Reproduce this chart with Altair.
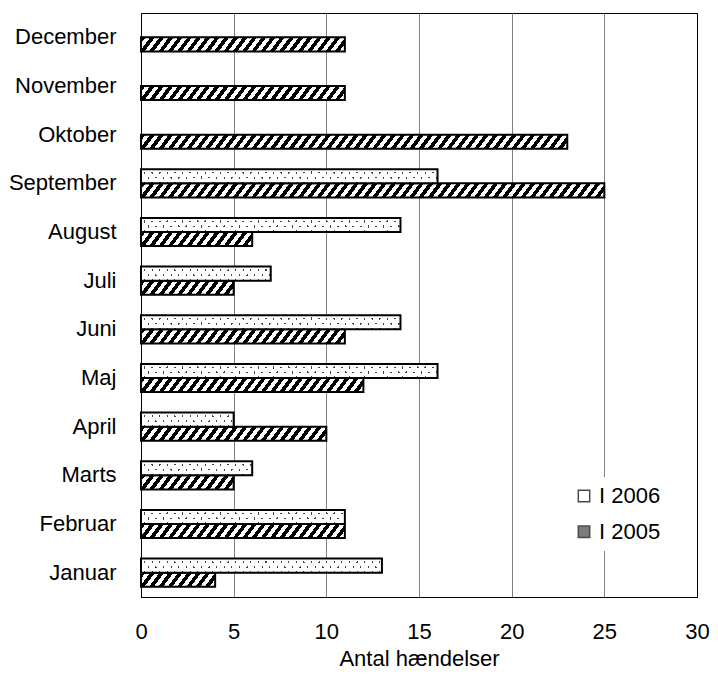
import math
import altair as alt
import pandas as pd

# ---------------- data ----------------
months = ["Januar", "Februar", "Marts", "April", "Maj", "Juni", "Juli",
          "August", "September", "Oktober", "November", "December"]
values_2006 = [13, 11, 6, 5, 16, 14, 7, 14, 16, None, None, None]
values_2005 = [4, 11, 5, 10, 12, 11, 5, 6, 25, 23, 11, 11]
series_names = ["I 2006", "I 2005"]
x_ticks = [0, 5, 10, 15, 20, 25, 30]
x_title = "Antal hændelser"

rows = []
for m, a, b in zip(months, values_2006, values_2005):
    if a is not None:
        rows.append({"month": m, "series": series_names[0], "value": a})
    rows.append({"month": m, "series": series_names[1], "value": b})
df = pd.DataFrame(rows)

# ---------------- layout ----------------
TOTAL_W = 702
TOTAL_H = 661
W_PLOT = 557
H_PLOT = 582
X_MAX = 30
PAD_IN = 0.42
PX = W_PLOT / X_MAX
STEP = H_PLOT / len(months)
BAR_H = STEP * (1 - PAD_IN) / 2
FONT = "Liberation Sans"


def stripe_gradient(W, H, s, P, w, phase, on, off):
    """Linear gradient (bbox units) giving stripes along x + s*y = const in screen px."""
    if s >= 0:
        gmin, gmax = 0.0, W + s * H
        x1, y1 = 0.0, 0.0
    else:
        gmin, gmax = s * H, W
        x1, y1 = 0.0, 1.0
    gr = gmax - gmin
    c = gr / (W * W + s * s * H * H)
    x2 = x1 + c * W
    y2 = y1 + c * s * H
    edges = [gmin, gmax]
    k0 = math.floor((gmin - phase) / P) - 1
    k1 = math.ceil((gmax - phase) / P) + 1
    for k in range(k0, k1 + 1):
        a = phase + k * P
        for e in (a, a + w):
            if gmin < e < gmax:
                edges.append(e)
    edges = sorted(set(edges))
    stops = []
    for g0, g1 in zip(edges[:-1], edges[1:]):
        mid = 0.5 * (g0 + g1)
        col = on if ((mid - phase) % P) < w else off
        stops.append({"offset": round((g0 - gmin) / gr, 6), "color": col})
        stops.append({"offset": round((g1 - gmin) / gr, 6), "color": col})
    return {"gradient": "linear", "x1": x1, "y1": y1, "x2": x2, "y2": y2,
            "stops": stops}


x_axis = alt.Axis(
    values=x_ticks, grid=True,
    gridColor={"condition": {"test": "datum.value === 0 || datum.value === 30",
                             "value": "black"}, "value": "#808080"},
    ticks=False, tickSize=0, labelPadding=24, labelFontSize=22,
    labelFlush=False, titleFontSize=22, titleFontWeight="normal",
    titlePadding=6, domainColor="black", title=x_title,
)
y_axis = alt.Axis(
    ticks=False, tickSize=0, labelPadding=25, labelFontSize=22,
    labelLimit=300, domainColor="black", title=None,
)


def enc(ch):
    return ch.encode(
        x=alt.X("value:Q", scale=alt.Scale(domain=[0, X_MAX], nice=False),
                axis=x_axis),
        y=alt.Y("month:N",
                scale=alt.Scale(domain=months[::-1], paddingInner=PAD_IN,
                                paddingOuter=PAD_IN / 2),
                axis=y_axis),
        yOffset=alt.YOffset("series:N",
                            scale=alt.Scale(domain=series_names,
                                            paddingInner=0, paddingOuter=0)),
    )


layers = []
base = alt.Chart(df)

# 2005: diagonal hatch
for v in sorted(set(values_2005)):
    W = v * PX
    grad = stripe_gradient(W, BAR_H, 0.75, 9.3, 4.6, 0.0, "black", "white")
    layers.append(enc(
        base.transform_filter((alt.datum.series == series_names[1]) & (alt.datum.value == v))
        .mark_bar(fill=grad, stroke="black", strokeWidth=2)
    ))

# 2006: dotted pattern (two crossing line sets)
for v in sorted(set(x for x in values_2006 if x is not None)):
    W = v * PX
    g_lines = stripe_gradient(W, BAR_H, 0.76, 7.6, 1.9, 5.32, "#444444", "white")
    g_mask = stripe_gradient(W, BAR_H, -0.76, 7.6, 1.9, 0.0,
                             "rgba(255,255,255,0)", "white")
    flt = (alt.datum.series == series_names[0]) & (alt.datum.value == v)
    layers.append(enc(base.transform_filter(flt).mark_bar(fill=g_lines, strokeWidth=0)))
    layers.append(enc(base.transform_filter(flt).mark_bar(fill=g_mask, stroke="black",
                                                          strokeWidth=2)))

# legend carrier
legend_layer = base.transform_filter("false").mark_point(
    shape="square", filled=True, stroke="black", strokeWidth=1.5
).encode(
    fill=alt.Fill("series:N",
                  scale=alt.Scale(domain=series_names, range=["white", "#444444"]),
                  legend=alt.Legend(
                      title=None, orient="none", legendX=424, legendY=464,
                      fillColor="white", padding=8, rowPadding=13.7,
                      symbolType="square", symbolSize=130,
                      symbolStrokeColor="black", symbolStrokeWidth=1.5,
                      labelFontSize=22, labelOffset=4, labelFont=FONT,
                      labelColor="black",
                  ))
)
layers.append(legend_layer)

chart = alt.layer(*layers).properties(
    width=TOTAL_W, height=TOTAL_H,
    padding={"left": 0, "top": 5, "right": 0, "bottom": 0},
    autosize=alt.AutoSizeParams(type="fit", contains="padding"),
).configure_view(
    stroke="black", strokeWidth=1
).configure_axis(
    labelFont=FONT, titleFont=FONT, labelColor="black", titleColor="black"
)

chart.save("out.html", embed_options={"renderer": "svg", "actions": False})
